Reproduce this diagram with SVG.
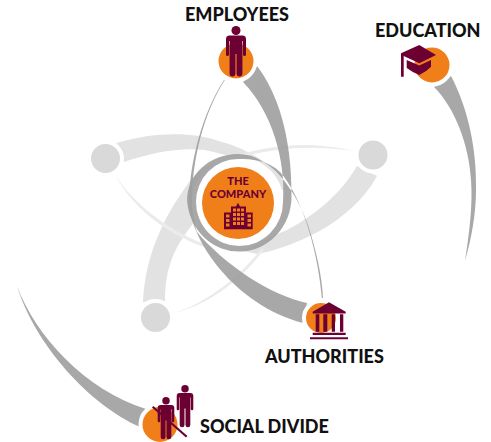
<svg xmlns="http://www.w3.org/2000/svg" width="491" height="442" viewBox="0 0 491 442">
<style>
.lt{fill:#e2e2e2}
.th{fill:#ebebeb}
.dk{fill:#9f9f9e;fill-opacity:.9}
.gn{fill:#d9d9d9;stroke:#fff;stroke-width:4}
.on{fill:#f07e19;stroke:#fff;stroke-width:4}
.ic{fill:#6c0033}
.lb{font-family:"Lato","Liberation Sans",sans-serif;font-weight:900;font-size:18px;fill:#111}
.co{font-family:"Lato","Liberation Sans",sans-serif;font-weight:900;font-size:11px;fill:#6c0033;text-anchor:middle}
</style>
<defs>
<g id="person">
<circle cx="10" cy="4.500" r="4.500"/>
<path d="M3.500 9.500H16.500A3.500 3.500 0 0 1 20 13V28.500A1.500 1.500 0 0 1 17 28.500V15H16.400V47.500A2.600 2.600 0 0 1 10.600 47.500V28H9.400V47.500A2.600 2.600 0 0 1 3.600 47.500V15H3V28.500A1.500 1.500 0 0 1 0 28.500V13A3.500 3.500 0 0 1 3.500 9.500Z"/>
</g>
</defs>
<g id="connectors">
<path class="lt" d="M116 143C150 133 190 130 222 142C250 150 275 165 290 190L280 190C265 170 240 157 205 150C180 147 150 153 124 162Z"/>
<path class="lt" d="M143 302C145 260 160 220 193 177C205 165 220 160 235 158L196 220C180 240 165 260 165 301Z"/>
<path class="lt" d="M357 166C340 195 315 215 287 230L240 250L257 254C290 248 350 225 377 176Z"/>
<path class="th" d="M115 175C135 205 165 228 205 244.500L204 247C160 231 132 205 115 175Z"/>
<path class="th" d="M175 313C210 301 240 276 262 248L264 249.500C242 279 212 303 175 313Z"/>
<path class="th" d="M354 151C320 143 280 141 232 157L233 159.500C280 145.500 320 146 354 151Z"/>
<circle cx="238" cy="203" r="46" fill="#fff"/>
<path class="dk" d="M224 80C203 112 190 160 189 200C189 240 235 305 303 323L307 303C270 295 225 265 197 232C194 224 192 212 192 200C192 160 204 112 224.800 80Z"/>
<path class="dk" d="M257 66C277 92 292 135 291.500 197A52.300 55 0 0 1 187 200A51 46 0 0 1 238 154C270 154 296 190 308 225C316 250 322 275 323 298L321.800 298C319 260 305 200 280 172C268 160 252 159 238 159A42 43 0 0 0 196 202A43.500 44 0 0 0 283 202C286 160 272 112 243 82Z"/>
<path class="dk" d="M451 76C468 108 477 150 476 190C476 215 471 240 465 261C469 235 473 205 471 180C469 145 455 108 434 87Z"/>
<path class="dk" d="M17 286C35 335 85 390 146 409L140 427C90 405 35 345 17 286Z"/>
</g>
<g id="node-left"><circle class="gn" cx="105.500" cy="158.500" r="16.500"/></g>
<g id="node-right"><circle class="gn" cx="373" cy="155" r="16.500"/></g>
<g id="node-bottom"><circle class="gn" cx="155.500" cy="317.500" r="16.500"/></g>
<g id="company">
<circle cx="238" cy="203" r="36" fill="#f07e19"/>
<text class="co" x="238" y="185">THE</text>
<text class="co" x="238" y="198.300">COMPANY</text>
<path class="ic" d="M224 212.500H231V206.500H236L238 202.700L240 206.500H246V212.500H252.700V229.300H224Z"/>
<path fill="#f07e19" d="M233 208.500h3v3h-3zM237 208.500h3v3h-3zM241 208.500h3v3h-3zM233 213h3v3h-3zM237 213h3v3h-3zM241 213h3v3h-3zM233 217.500h3v3h-3zM237 217.500h3v3h-3zM241 217.500h3v3h-3zM233 222h3v3h-3zM237 222h3v3h-3zM241 222h3v3h-3zM226 214.500h3.500v3h-3.500zM226 219h3.500v3h-3.500zM226 223.500h3.500v3h-3.500zM247.500 214.500h3.500v3h-3.500zM247.500 219h3.500v3h-3.500zM247.500 223.500h3.500v3h-3.500z"/>
</g>
<g id="employees">
<circle class="on" cx="236" cy="61" r="19.500"/>
<use href="#person" class="ic" x="226" y="26"/>
<text class="lb" x="185" y="20.500">EMPLOYEES</text>
</g>
<g id="education">
<circle class="on" cx="432" cy="65" r="19.500"/>
<path class="ic" d="M401 53.300L419.300 45L436 55L419.300 63.300L403.700 56V76.700H401Z"/>
<path class="ic" d="M406.700 60L419.300 65.500L431 60V66.700Q426 72 419.300 75Q412 72 406.700 68Z"/>
<text class="lb" x="375" y="36.500">EDUCATION</text>
</g>
<g id="authorities">
<circle class="on" cx="321" cy="318" r="17"/>
<path class="ic" d="M312.700 311.700L329 302.300L345.700 311.700V313.500H312.700ZM315.700 314.300h3.600v17.400h-3.600zM323.300 314.300h4v17.400h-4zM331.700 314.300h3.300v17.400h-3.300zM340 314.300h3.300v17.400H340zM312.700 332.700h33v2.300h-33zM310 337.300h38v2h-38z"/>
<text class="lb" x="265" y="362.500">AUTHORITIES</text>
</g>
<g id="social-divide">
<circle class="on" cx="160" cy="424.500" r="19.500"/>
<use href="#person" class="ic" transform="translate(176.700 385) scale(.83 .84)"/>
<use href="#person" class="ic" transform="translate(157.700 397) scale(.83 .84)"/>
<path d="M152.700 406.700L186.700 436.700" stroke="#6c0033" stroke-width="2.200" fill="none"/>
<text class="lb" x="200" y="432.500">SOCIAL DIVIDE</text>
</g>
</svg>
